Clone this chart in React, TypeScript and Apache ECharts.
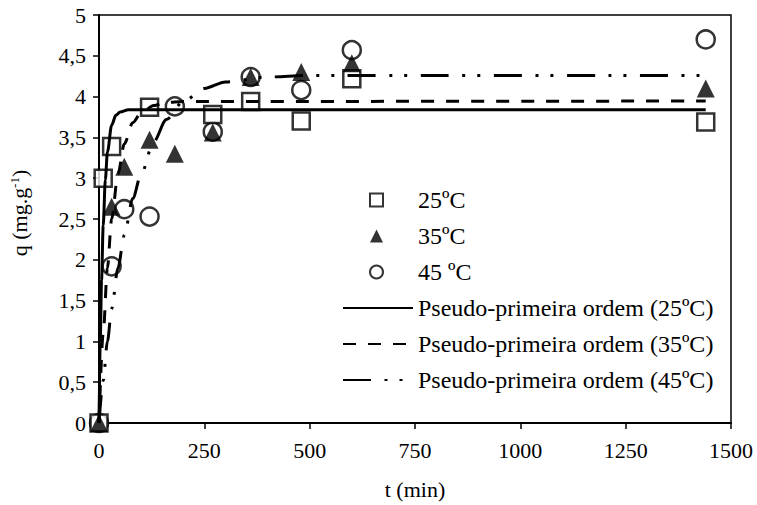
import React, { useEffect, useRef } from "react";
import * as echarts from "echarts";

const FONT = "'Liberation Serif', 'Times New Roman', serif";

// Experimental data (t in min, q in mg/g)
const t25 = [0, 10, 30, 120, 270, 360, 480, 600, 1440];
const q25 = [0, 3.0, 3.39, 3.87, 3.78, 3.94, 3.7, 4.22, 3.69];
const t35 = [0, 30, 60, 120, 180, 270, 360, 480, 600, 1440];
const q35 = [0, 2.65, 3.14, 3.47, 3.3, 3.56, 4.24, 4.3, 4.41, 4.1];
const t45 = [0, 30, 60, 120, 180, 270, 360, 480, 600, 1440];
const q45 = [0, 1.92, 2.62, 2.53, 3.88, 3.57, 4.24, 4.08, 4.57, 4.7];

// Pseudo-first-order fitted curves
const fitT25 = [0, 3, 6, 10, 15, 20, 30, 40, 50, 70, 100, 1440];
const fitQ25 = [0, 1.0, 1.75, 2.42, 2.98, 3.32, 3.65, 3.77, 3.81, 3.84, 3.84, 3.84];
const fitT35 = [0, 10, 20, 30, 45, 60, 80, 100, 130, 160, 200, 1440];
const fitQ35 = [0, 1.1, 1.9, 2.5, 3.05, 3.42, 3.68, 3.8, 3.89, 3.93, 3.94, 3.946];
const fitT45 = [0, 10, 20, 30, 45, 60, 80, 100, 130, 160, 200, 250, 300, 400, 500, 1440];
const fitQ45 = [0, 0.52, 1.0, 1.4, 1.9, 2.3, 2.75, 3.05, 3.45, 3.72, 3.94, 4.1, 4.18, 4.24, 4.26, 4.26];

const pointNames = ["25ºC", "35ºC", "45 ºC"];
const fitNames = [
  "Pseudo-primeira ordem (25ºC)",
  "Pseudo-primeira ordem (35ºC)",
  "Pseudo-primeira ordem (45ºC)",
];

const zip = (a: number[], b: number[]) => a.map((v, i) => [v, b[i]]);

export default function App() {
  const ref = useRef<HTMLDivElement>(null);
  useEffect(() => {
    const chart = echarts.init(ref.current!, null, { renderer: "svg" });
    const lineBase = { type: "line", showSymbol: false, symbol: "none", smooth: 0.3, smoothMonotone: "x" };
    const legendText = { fontFamily: FONT, fontSize: 24, color: "#000", lineHeight: 36 };
    chart.setOption({
      animation: false,
      backgroundColor: "#fff",
      textStyle: { fontFamily: FONT, color: "#000" },
      grid: { left: 90, right: 26, top: 15, bottom: 82, show: true, borderColor: "#000", borderWidth: 1.5 },
      legend: [
        {
          data: pointNames,
          orient: "vertical",
          left: 364,
          top: 177,
          itemWidth: 13,
          itemHeight: 13,
          itemGap: 0,
          textStyle: { ...legendText, padding: [0, 0, 0, 30] },
        },
        {
          data: fitNames,
          orient: "vertical",
          left: 337,
          top: 285,
          itemWidth: 70,
          itemHeight: 13,
          itemGap: 0,
          itemStyle: { opacity: 0 },
          textStyle: legendText,
        },
      ],
      xAxis: {
        type: "value",
        min: 0,
        max: 1500,
        interval: 250,
        name: "t (min)",
        nameLocation: "middle",
        nameGap: 55,
        nameTextStyle: { fontFamily: FONT, fontSize: 22, color: "#000" },
        axisLine: { lineStyle: { color: "#000", width: 2 } },
        axisTick: { show: true, length: 6, lineStyle: { color: "#000", width: 1.5 } },
        axisLabel: { margin: 16, fontFamily: FONT, fontSize: 22, color: "#000", formatter: (v: number) => String(v) },
        splitLine: { show: false },
      },
      yAxis: {
        type: "value",
        min: 0,
        max: 5,
        interval: 0.5,
        name: "q (mg.g{sup|-1})",
        nameLocation: "middle",
        nameGap: 68,
        nameTextStyle: {
          fontFamily: FONT,
          fontSize: 22,
          color: "#000",
          padding: [0, 0, 0, 12],
          rich: { sup: { fontFamily: FONT, fontSize: 13, color: "#000", verticalAlign: "bottom", padding: [0, 0, 10, 0] } },
        },
        axisLine: { show: true, lineStyle: { color: "#000", width: 2 } },
        axisTick: { show: true, length: 6, lineStyle: { color: "#000", width: 1.5 } },
        axisLabel: {
          margin: 13,
          fontFamily: FONT,
          fontSize: 22,
          color: "#000",
          formatter: (v: number) => String(v).replace(".", ","),
        },
        splitLine: { show: false },
      },
      series: [
        { ...lineBase, name: fitNames[0], data: zip(fitT25, fitQ25), lineStyle: { color: "#000", width: 3, type: "solid" }, itemStyle: { color: "#000" } },
        { ...lineBase, name: fitNames[1], data: zip(fitT35, fitQ35), lineStyle: { color: "#000", width: 3, type: [13, 12] }, itemStyle: { color: "#000" } },
        { ...lineBase, name: fitNames[2], data: zip(fitT45, fitQ45), lineStyle: { color: "#000", width: 3, type: [28, 13.5, 3, 12, 3, 13.5] }, itemStyle: { color: "#000" } },
        { type: "scatter", name: pointNames[2], data: zip(t45, q45), symbol: "circle", symbolSize: 18, itemStyle: { color: "#fff", borderColor: "#000", borderWidth: 2.5 } },
        { type: "scatter", name: pointNames[0], data: zip(t25, q25), symbol: "rect", symbolSize: 17, itemStyle: { color: "#fff", borderColor: "#000", borderWidth: 2.5 } },
        { type: "scatter", name: pointNames[1], data: zip(t35, q35), symbol: "triangle", symbolSize: 18, itemStyle: { color: "#000" } },
      ],
    });
    return () => chart.dispose();
  }, []);
  return <div ref={ref} style={{ position: "absolute", left: 0, top: 0, width: 757, height: 505 }} />;
}
